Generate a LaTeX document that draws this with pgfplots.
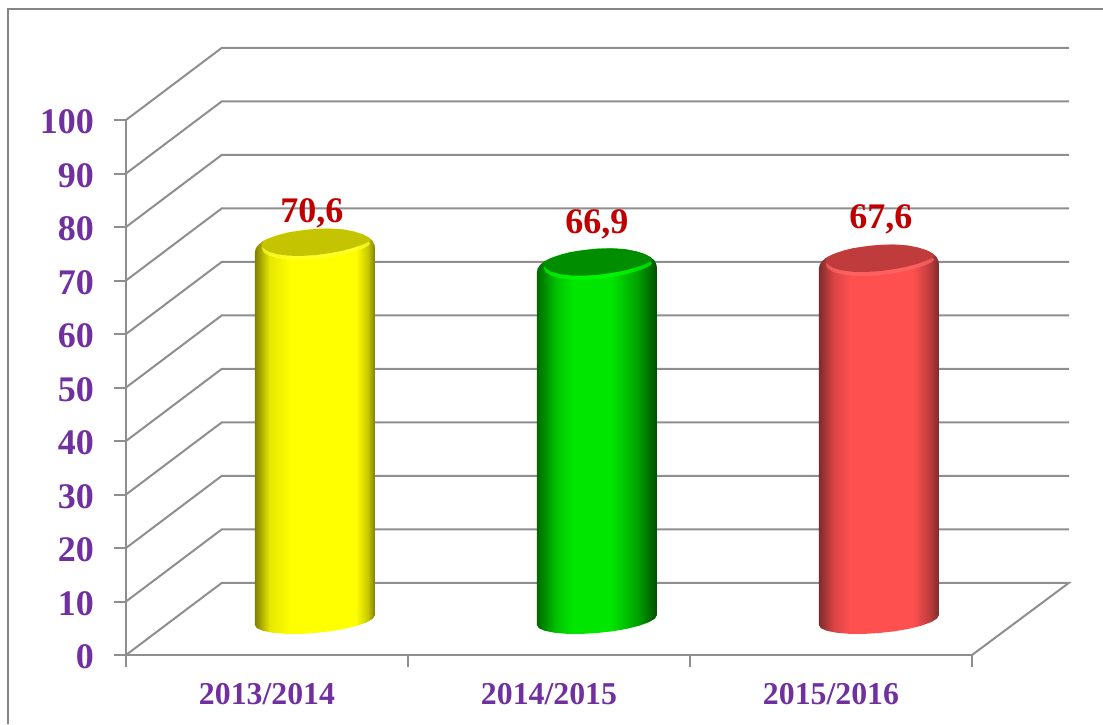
\documentclass[border=0pt]{standalone}
\usepackage{fontspec}
\setmainfont{Liberation Serif}
\usepackage{pgfplots}
\usepackage{pgfplotstable}
\pgfplotsset{compat=1.18}

\definecolor{axisgray}{HTML}{8E8E8E}
\definecolor{framegray}{HTML}{858585}
\definecolor{labpurple}{HTML}{7030A0}
\definecolor{valred}{HTML}{C00000}

% side shading of the cylinders (path spans 25bp..75bp)
\definecolor{yA}{HTML}{7F7F00}\definecolor{yB}{HTML}{FFFF00}\definecolor{yM}{HTML}{E6E600}\definecolor{yN}{HTML}{C8C800}
\pgfdeclarehorizontalshading{cylY}{100bp}{color(0bp)=(yA);color(25bp)=(yA);
  color(31bp)=(yM);color(40bp)=(yB);color(67bp)=(yB);color(72bp)=(yN);
  color(75bp)=(yA);color(100bp)=(yA)}
\definecolor{gA}{HTML}{006800}\definecolor{gB}{HTML}{00E600}\definecolor{gC}{HTML}{005000}
\pgfdeclarehorizontalshading{cylG}{100bp}{color(0bp)=(gA);color(25bp)=(gA);
  color(33bp)=(gB!85!black);color(40bp)=(gB);color(56bp)=(gB);color(67bp)=(gB!70!black);
  color(75bp)=(gC);color(100bp)=(gC)}
\definecolor{rA}{HTML}{7D2C2C}\definecolor{rB}{HTML}{FF5050}
\pgfdeclarehorizontalshading{cylR}{100bp}{color(0bp)=(rA);color(25bp)=(rA);
  color(31bp)=(rB!85!black);color(38bp)=(rB);color(64bp)=(rB);color(71bp)=(rB!75!black);
  color(75bp)=(rA);color(100bp)=(rA)}
\definecolor{capY}{HTML}{C4C400}\definecolor{rimY}{HTML}{FFFF30}
\definecolor{capG}{HTML}{008E00}\definecolor{rimG}{HTML}{00FF00}
\definecolor{capR}{HTML}{C03C3C}\definecolor{rimR}{HTML}{FF6868}

% values shown on the chart, dx/dy = label shift in pt
\pgfplotstableread{
x   val  dx   dy
0.5 70.6 -1.5 10
1.5 66.9 0    14.5
2.5 67.6 1    15
}\valuetable

% cylinder outline in px round the centre of top (t=1) and base (t=0)
\pgfplotstableread{
u     v     t
-60   -10   1
-59.3 -6.5  1
-57   -3    1
-53   0.5   1
-48   3.2   1
-42   5.6   1
-35   8     1
-27   9.9   1
-18   11.4  1
-9    12.6  1
0     13.4  1
10    13.8  1
20    13.6  1
30    12.6  1
40    10.6  1
48    8     1
54    4.8   1
57.5  1.5   1
59.5  -2.5  1
60    -6    1
60    5     0
58    1.4   0
52    -2.2  0
42.4  -5.7  0
30    -8.8  0
15.5  -11.3 0
0     -13   0
-15.5 -13.9 0
-30   -13.8 0
-42.4 -12.7 0
-52   -10.8 0
-58   -8.2  0
-60   -5    0
}\bodytable

% darker top face
\pgfplotstableread{
u     v
55    2.6
53.2  5
47.8  7.8
39.2  10.7
28    12.9
15    13.7
1     13.4
-13   11.9
-26   10
-37.2 6.8
-45.8 4
-51.2 1.3
-53   -2
-51.2 -6
-45.8 -9.5
-37.2 -12
-26   -13.4
-13   -13.6
1     -12.7
15    -10.8
28    -8.3
39.2  -5.2
47.8  -2.2
53.2  0.4
}\captable

% #1 category centre, #2 value, #3 shading, #4 top face colour, #5 rim highlight
\newcommand{\cyl}[5]{%
  \addplot[draw=none,shade,shading=#3] table[x expr=#1+0.17+\thisrow{u}/282,
    y expr=\thisrow{t}*#2+6.54+\thisrow{v}/5.35] {\bodytable};
  \addplot[draw=none,fill=#5,fill opacity=0.7] table[x expr=#1+0.17+\thisrow{u}/282,
    y expr=#2+6.54+(\thisrow{v}-4)/5.35] {\captable};
  \addplot[draw=none,fill=#4] table[x expr=#1+0.17+\thisrow{u}/282,
    y expr=#2+6.54+\thisrow{v}/5.35] {\captable};
}

\begin{document}
\begin{tikzpicture}
\useasboundingbox (-63pt,-34.5pt) rectangle (488.5pt,327.5pt);
\draw[framegray,line width=1.1pt] (-59pt,-34.5pt) -- (-59pt,323pt) -- (488.5pt,323pt);
\begin{axis}[
    scale only axis,
    width=423pt,
    height=267.5pt,
    xmin=0, xmax=3,
    ymin=0, ymax=100,
    clip=false,
    axis lines*=left,
    axis line style={axisgray,line width=1pt},
    tick style={axisgray,line width=1pt},
    tick align=outside,
    xtick={0,1,2,3},
    xticklabels={},
    extra x ticks={0.5,1.5,2.5},
    extra x tick labels={2013/2014,2014/2015,2015/2016},
    extra x tick style={major tick length=0pt,
      xticklabel style={yshift=-10.5pt}},
    ytick={0,10,...,100},
    major tick length=6pt,
    xticklabel style={font=\fontsize{15.9}{18}\selectfont\bfseries,text=labpurple},
    yticklabel style={font=\fontsize{18}{20}\selectfont\bfseries,text=labpurple,xshift=-6.5pt,yshift=-1pt},
    /pgf/number format/assume math mode=true,
]
% walls and floor
\addplot[axisgray,line width=1pt] coordinates {(0,0)(0.34,13.5)(3.344,13.5)(3,0)};
\addplot[axisgray,line width=1pt] coordinates {(0,10)(0.34,23.5)(3.344,23.5)};
\addplot[axisgray,line width=1pt] coordinates {(0,20)(0.34,33.5)(3.344,33.5)};
\addplot[axisgray,line width=1pt] coordinates {(0,30)(0.34,43.5)(3.344,43.5)};
\addplot[axisgray,line width=1pt] coordinates {(0,40)(0.34,53.5)(3.344,53.5)};
\addplot[axisgray,line width=1pt] coordinates {(0,50)(0.34,63.5)(3.344,63.5)};
\addplot[axisgray,line width=1pt] coordinates {(0,60)(0.34,73.5)(3.344,73.5)};
\addplot[axisgray,line width=1pt] coordinates {(0,70)(0.34,83.5)(3.344,83.5)};
\addplot[axisgray,line width=1pt] coordinates {(0,80)(0.34,93.5)(3.344,93.5)};
\addplot[axisgray,line width=1pt] coordinates {(0,90)(0.34,103.5)(3.344,103.5)};
\addplot[axisgray,line width=1pt] coordinates {(0,100)(0.34,113.5)(3.344,113.5)};

\cyl{0.5}{70.6}{cylY}{capY}{rimY}
\cyl{1.5}{66.9}{cylG}{capG}{rimG}
\cyl{2.5}{67.6}{cylR}{capR}{rimR}

% value labels
\addplot[draw=none,point meta=explicit,
    visualization depends on=\thisrow{dx} \as \dx,
    visualization depends on=\thisrow{dy} \as \dy,
    nodes near coords={\pgfmathprintnumber[fixed,precision=1,use comma,assume math mode=true]{\pgfplotspointmeta}},
    nodes near coords style={anchor=base,inner sep=0pt,xshift=\dx pt,yshift=\dy pt,
      font=\fontsize{18}{20}\selectfont\bfseries,text=valred}]
  table[x expr=\thisrow{x}+0.17,y expr=\thisrow{val}+6.54,meta=val] {\valuetable};
\end{axis}
\end{tikzpicture}
\end{document}
